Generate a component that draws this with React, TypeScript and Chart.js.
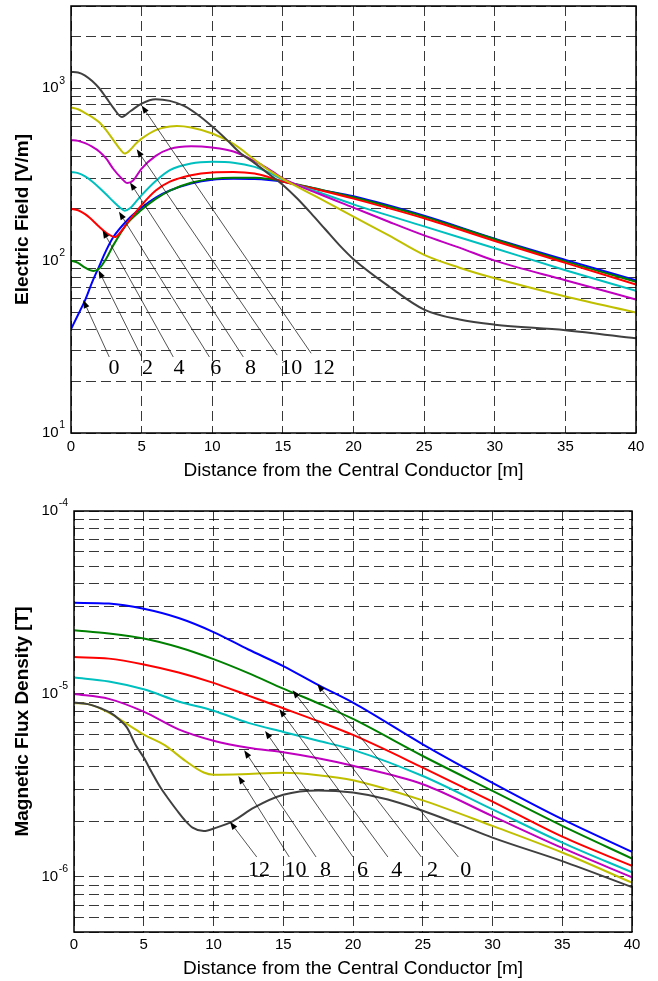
import React, { useEffect, useRef } from 'react';
import { Chart, registerables } from 'chart.js';

Chart.register(...registerables);

const SANS = '"Liberation Sans", Arial, Helvetica, sans-serif';
const SERIF = '"Liberation Serif", "Times New Roman", Times, serif';

// ---------- Shared categories ----------
const HEIGHTS = ['0', '2', '4', '6', '8', '10', '12'];
const SERIES_COLORS = ['#0000ff', '#008000', '#ff0000', '#00bfbf', '#bf00bf', '#bfbf00', '#404040'];
const X_MIN = 0;
const X_MAX = 40;
const X_STEP = 5;
const X_TITLE = 'Distance from the Central Conductor [m]';

// ---------- Electric field [V/m] ----------
const EF_H0_X = [0, 0.5, 1, 1.5, 2, 2.5, 3, 4, 5, 6, 7, 8.5, 10, 11.5, 13, 14, 15, 16, 17.5, 20, 25, 30, 35, 40];
const EF_H0_V = [40, 48.5, 59, 75, 93, 115, 137, 172, 203, 232, 255, 280, 295, 299, 298, 294, 287, 276, 259, 236, 182, 134, 101, 77];

const EF_H2_X = [0, 0.5, 1, 1.6, 2, 2.5, 3, 4, 5, 6, 7, 8.5, 10, 11.5, 13, 14, 15, 17.5, 20, 25, 30, 35, 40];
const EF_H2_V = [100, 97, 91, 87, 90, 103, 123, 165, 197, 228, 255, 283, 298, 303, 303, 298, 288, 260, 233, 180, 133, 99, 75.4];

const EF_H4_X = [0, 0.5, 1, 1.5, 2, 2.5, 3.1, 3.5, 4, 5, 6, 7, 8.5, 10, 11.5, 13, 14, 15, 17.5, 20, 25, 30, 35, 40];
const EF_H4_V = [200, 196, 186, 172, 157, 145, 137, 146, 166, 210, 255, 287, 313, 325, 327, 320, 305, 288, 258, 229, 176, 130, 97, 72.7];

const EF_H6_X = [0, 0.5, 1, 1.5, 2, 2.5, 3, 3.5, 3.8, 4.2, 4.6, 5, 6, 7, 8.5, 10, 11.5, 13, 14, 15, 17.5, 20, 25, 30, 35, 40];
const EF_H6_V = [327, 322, 308, 288, 265, 242, 220, 202, 195, 202, 220, 240, 290, 335, 366, 374, 370, 350, 325, 295, 250, 212, 158, 118, 88, 66.8];

const EF_H8_X = [0, 0.5, 1, 1.5, 2, 2.5, 3, 3.5, 4, 4.4, 5, 6, 7, 8.5, 10, 11.5, 13, 14, 15, 17.5, 20, 22.5, 25, 27.5, 30, 35, 40];
const EF_H8_V = [500, 495, 480, 458, 430, 390, 340, 305, 282, 292, 342, 405, 445, 461, 453, 430, 378, 340, 300, 245, 203, 168, 140, 119, 100, 77, 59.5];

const EF_H10_X = [0, 0.5, 1, 1.5, 2, 2.5, 3, 3.5, 3.8, 4.2, 4.6, 5, 6, 7, 7.5, 8.5, 10, 11.5, 13, 14, 15, 17.5, 20, 22.5, 25, 27.5, 30, 35, 40];
const EF_H10_V = [773, 755, 718, 680, 635, 570, 500, 440, 418, 440, 478, 510, 572, 600, 604, 592, 546, 475, 385, 335, 298, 232, 180, 140, 108, 91, 79, 62, 50];

const EF_H12_X = [0, 0.5, 1, 1.5, 2, 2.5, 3, 3.6, 4.2, 5, 6, 7, 8, 9, 10, 11, 12, 13, 14, 15, 16, 17, 18, 19, 20, 22.5, 25, 27.5, 30, 35, 40];
const EF_H12_V = [1244, 1235, 1185, 1100, 1000, 880, 770, 682, 735, 815, 864, 845, 790, 700, 600, 505, 420, 368, 318, 275, 230, 188, 152, 123, 102, 71, 52, 45.5, 42.5, 39.5, 35.4];

const EF_Y_MIN = 10;
const EF_Y_MAX = 3000;
const EF_Y_EXPONENTS = [1, 2, 3];
const EF_Y_TITLE = 'Electric Field [V/m]';

// annotation callouts (data units)
const EF_LABEL_X = [3.04, 5.42, 7.65, 10.25, 12.7, 15.6, 17.9];
const EF_LABEL_V = [23.8, 23.8, 23.8, 23.8, 23.8, 23.8, 23.8];
const EF_FROM_X = [2.71, 5.0, 7.24, 9.8, 12.2, 14.6, 17.0];
const EF_FROM_V = [27.6, 27.6, 27.6, 27.6, 27.6, 28.3, 29];
const EF_TIP_X = [0.87, 1.95, 2.24, 3.4, 4.18, 4.65, 5.0];
const EF_TIP_V = [59, 88, 150, 192, 284, 442, 794];

// ---------- Magnetic flux density [T] ----------
const MF_X = [0, 2.5, 5, 7.5, 10, 12.5, 15, 17.5, 20, 25, 30, 35, 40];
const MF_H0_V = [3.15e-5, 3.12e-5, 2.92e-5, 2.6e-5, 2.18e-5, 1.75e-5, 1.42e-5, 1.12e-5, 8.97e-6, 5.31e-6, 3.27e-6, 2.07e-6, 1.37e-6];
const MF_H2_V = [2.23e-5, 2.14e-5, 2.01e-5, 1.8e-5, 1.55e-5, 1.3e-5, 1.07e-5, 8.9e-6, 7.3e-6, 4.58e-6, 2.95e-6, 1.9e-6, 1.26e-6];
const MF_H4_V = [1.59e-5, 1.56e-5, 1.45e-5, 1.31e-5, 1.15e-5, 9.8e-6, 8.35e-6, 7.1e-6, 5.97e-6, 3.96e-6, 2.58e-6, 1.66e-6, 1.15e-6];
const MF_H6_V = [1.23e-5, 1.17e-5, 1.06e-5, 9.1e-6, 8.1e-6, 6.95e-6, 6.2e-6, 5.55e-6, 4.95e-6, 3.56e-6, 2.34e-6, 1.54e-6, 1.06e-6];
const MF_H8_V = [1.0e-5, 9.4e-6, 8.0e-6, 6.4e-6, 5.55e-6, 5.08e-6, 4.8e-6, 4.45e-6, 4.05e-6, 3.21e-6, 2.15e-6, 1.44e-6, 9.96e-7];

const MF_H10_X = [0, 1, 2.5, 4, 5, 6.5, 8, 9.3, 10, 12, 15, 17.5, 20, 25, 30, 35, 40];
const MF_H10_V = [8.9e-6, 8.8e-6, 7.9e-6, 6.7e-6, 6.0e-6, 5.25e-6, 4.3e-6, 3.72e-6, 3.62e-6, 3.64e-6, 3.71e-6, 3.6e-6, 3.38e-6, 2.62e-6, 1.9e-6, 1.36e-6, 9.3e-7];

const MF_H12_X = [0, 1, 2, 2.6, 3.2, 3.8, 4.4, 5, 5.6, 6.2, 6.8, 7.4, 8, 8.5, 9.3, 10.2, 11.4, 12.9, 15, 17.5, 20, 22.5, 25, 27.5, 30, 35, 40];
const MF_H12_V = [8.97e-6, 8.8e-6, 8.3e-6, 7.9e-6, 7.3e-6, 6.55e-6, 5.3e-6, 4.49e-6, 3.7e-6, 3.08e-6, 2.65e-6, 2.3e-6, 2.02e-6, 1.86e-6, 1.78e-6, 1.86e-6, 2.02e-6, 2.39e-6, 2.81e-6, 2.97e-6, 2.89e-6, 2.65e-6, 2.3e-6, 1.95e-6, 1.64e-6, 1.22e-6, 8.8e-7];

const MF_Y_MIN = 5e-7;
const MF_Y_MAX = 1e-4;
const MF_Y_EXPONENTS = [-6, -5, -4];
const MF_Y_TITLE = 'Magnetic Flux Density [T]';

const MF_LABEL_TEXT = ['12', '10', '8', '6', '4', '2', '0'];
const MF_LABEL_X = [13.26, 15.88, 18.03, 20.68, 23.13, 25.7, 28.09];
const MF_LABEL_V = [1.09e-6, 1.09e-6, 1.09e-6, 1.09e-6, 1.09e-6, 1.09e-6, 1.09e-6];
const MF_FROM_X = [13.1, 15.43, 17.35, 20.0, 22.5, 24.9, 27.55];
const MF_FROM_V = [1.285e-6, 1.285e-6, 1.285e-6, 1.285e-6, 1.285e-6, 1.285e-6, 1.285e-6];
const MF_TIP_X = [11.18, 11.78, 12.2, 13.7, 14.72, 15.67, 17.44];
const MF_TIP_V = [2.0e-6, 3.56e-6, 4.92e-6, 6.28e-6, 8.25e-6, 1.047e-5, 1.13e-5];

// ---------- helpers ----------
const GRID_COLOR = 'rgba(0,0,0,0.78)';
const GRID_DASH = [10, 5];
const CANVAS_W = 658;

function logGridValues(min: number, max: number): number[] {
  const out: number[] = [];
  const d0 = Math.floor(Math.log10(min)) - 1;
  const d1 = Math.ceil(Math.log10(max)) + 1;
  for (let d = d0; d <= d1; d++) {
    for (let m = 1; m <= 9; m++) {
      const v = parseFloat((m * Math.pow(10, d)).toPrecision(6));
      if (v >= min * 0.9999 && v <= max * 1.0001) out.push(v);
    }
  }
  return out;
}

function decorPlugin(spec: any) {
  return {
    id: 'decor_' + spec.id,
    afterDatasetsDraw(chart: any) {
      const { ctx, chartArea: a, scales } = chart;
      const xs = scales.x;
      const ys = scales.y;
      ctx.save();
      ctx.setLineDash([]);
      // callout arrows + labels
      const ann = spec.ann;
      for (let i = 0; i < ann.text.length; i++) {
        const x0 = xs.getPixelForValue(ann.fromX[i]);
        const y0 = ys.getPixelForValue(ann.fromV[i]);
        const x1 = xs.getPixelForValue(ann.tipX[i]);
        const y1 = ys.getPixelForValue(ann.tipV[i]);
        const ang = Math.atan2(y1 - y0, x1 - x0);
        const L = 8;
        const W = 3;
        const bx = x1 - L * Math.cos(ang);
        const by = y1 - L * Math.sin(ang);
        ctx.strokeStyle = '#1a1a1a';
        ctx.lineWidth = 0.75;
        ctx.beginPath();
        ctx.moveTo(x0, y0);
        ctx.lineTo(bx, by);
        ctx.stroke();
        ctx.fillStyle = '#000';
        ctx.beginPath();
        ctx.moveTo(x1, y1);
        ctx.lineTo(bx + W * Math.sin(ang), by - W * Math.cos(ang));
        ctx.lineTo(bx - W * Math.sin(ang), by + W * Math.cos(ang));
        ctx.closePath();
        ctx.fill();
        ctx.font = `22px ${SERIF}`;
        ctx.textAlign = 'center';
        ctx.textBaseline = 'middle';
        ctx.fillText(ann.text[i], xs.getPixelForValue(ann.labelX[i]), ys.getPixelForValue(ann.labelV[i]));
      }
      // axes box
      ctx.strokeStyle = '#000';
      ctx.lineWidth = 1.5;
      ctx.strokeRect(a.left, a.top, a.right - a.left, a.bottom - a.top);
      // y tick labels 10^n
      ctx.fillStyle = '#000';
      ctx.textBaseline = 'middle';
      for (const e of spec.exps) {
        const y = ys.getPixelForValue(Math.pow(10, e));
        const expStr = String(e);
        ctx.font = `10.5px ${SANS}`;
        const we = ctx.measureText(expStr).width;
        const right = a.left - 6;
        ctx.textAlign = 'left';
        ctx.fillText(expStr, right - we, y - 7.5);
        ctx.font = `15px ${SANS}`;
        ctx.textAlign = 'right';
        ctx.fillText('10', right - we - 0.5, y);
      }
      ctx.restore();
    },
  };
}

function buildConfig(spec: any) {
  const gridVals = logGridValues(spec.yMin, spec.yMax);
  return {
    type: 'line',
    data: {
      datasets: spec.series.map((s: any, i: number) => ({
        label: HEIGHTS[i],
        data: s.x.map((xv: number, j: number) => ({ x: xv, y: s.v[j] })),
        borderColor: SERIES_COLORS[i],
        backgroundColor: SERIES_COLORS[i],
        borderWidth: 2,
        pointRadius: 0,
        fill: false,
        cubicInterpolationMode: 'monotone',
        order: spec.series.length - i,
      })),
    },
    options: {
      animation: false,
      responsive: false,
      maintainAspectRatio: false,
      devicePixelRatio: 1,
      events: [],
      layout: {
        padding: { left: 0, top: spec.area.top, right: CANVAS_W - spec.area.right, bottom: 0 },
      },
      plugins: { legend: { display: false }, tooltip: { enabled: false } },
      scales: {
        x: {
          type: 'linear',
          min: X_MIN,
          max: X_MAX,
          ticks: {
            stepSize: X_STEP,
            color: '#000',
            font: { family: SANS, size: 15 },
            padding: spec.xTickPad,
            maxRotation: 0,
            autoSkip: false,
          },
          grid: { color: GRID_COLOR, lineWidth: 1, drawTicks: false },
          border: { display: false, dash: GRID_DASH },
          title: {
            display: true,
            text: X_TITLE,
            color: '#000',
            font: { family: SANS, size: 19 },
            padding: { top: 0, bottom: spec.xTitlePad },
          },
          afterFit: (s: any) => {
            s.height = spec.canvasH - spec.area.bottom;
          },
        },
        y: {
          type: 'logarithmic',
          min: spec.yMin,
          max: spec.yMax,
          ticks: { display: false },
          grid: { color: GRID_COLOR, lineWidth: 1, drawTicks: false },
          border: { display: false, dash: GRID_DASH },
          title: {
            display: true,
            text: spec.yTitle,
            color: '#000',
            font: { family: SANS, size: 19, weight: 'bold' },
            padding: { top: 11.1, bottom: 0 },
          },
          afterBuildTicks: (s: any) => {
            s.ticks = gridVals.map((v) => ({ value: v }));
          },
          afterFit: (s: any) => {
            s.width = spec.area.left;
          },
        },
      },
    },
    plugins: [decorPlugin(spec)],
  };
}

const EF_SPEC = {
  id: 'ef',
  canvasH: 490,
  area: { left: 71, right: 636, top: 6, bottom: 433 },
  yMin: EF_Y_MIN,
  yMax: EF_Y_MAX,
  exps: EF_Y_EXPONENTS,
  yTitle: EF_Y_TITLE,
  xTickPad: 5,
  xTitlePad: 8,
  series: [
    { x: EF_H0_X, v: EF_H0_V },
    { x: EF_H2_X, v: EF_H2_V },
    { x: EF_H4_X, v: EF_H4_V },
    { x: EF_H6_X, v: EF_H6_V },
    { x: EF_H8_X, v: EF_H8_V },
    { x: EF_H10_X, v: EF_H10_V },
    { x: EF_H12_X, v: EF_H12_V },
  ],
  ann: {
    text: HEIGHTS,
    labelX: EF_LABEL_X,
    labelV: EF_LABEL_V,
    fromX: EF_FROM_X,
    fromV: EF_FROM_V,
    tipX: EF_TIP_X,
    tipV: EF_TIP_V,
  },
};

const MF_SPEC = {
  id: 'mf',
  canvasH: 491,
  area: { left: 74, right: 632, top: 21, bottom: 442 },
  yMin: MF_Y_MIN,
  yMax: MF_Y_MAX,
  exps: MF_Y_EXPONENTS,
  yTitle: MF_Y_TITLE,
  xTickPad: 4,
  xTitlePad: 0.5,
  series: [
    { x: MF_X, v: MF_H0_V },
    { x: MF_X, v: MF_H2_V },
    { x: MF_X, v: MF_H4_V },
    { x: MF_X, v: MF_H6_V },
    { x: MF_X, v: MF_H8_V },
    { x: MF_H10_X, v: MF_H10_V },
    { x: MF_H12_X, v: MF_H12_V },
  ],
  ann: {
    text: MF_LABEL_TEXT,
    labelX: MF_LABEL_X,
    labelV: MF_LABEL_V,
    fromX: MF_FROM_X,
    fromV: MF_FROM_V,
    tipX: MF_TIP_X,
    tipV: MF_TIP_V,
  },
};

function Panel({ spec, top }: { spec: any; top: number }) {
  const ref = useRef<HTMLCanvasElement | null>(null);
  useEffect(() => {
    if (!ref.current) return;
    const chart = new Chart(ref.current, buildConfig(spec) as any);
    return () => chart.destroy();
  }, [spec]);
  return (
    <canvas
      ref={ref}
      width={CANVAS_W}
      height={spec.canvasH}
      style={{ position: 'absolute', left: 0, top, width: CANVAS_W, height: spec.canvasH, display: 'block' }}
    />
  );
}

export default function App() {
  return (
    <div
      style={{
        position: 'absolute',
        left: 0,
        top: 0,
        width: CANVAS_W,
        height: 981,
        background: '#fff',
        overflow: 'hidden',
      }}
    >
      <Panel spec={EF_SPEC} top={0} />
      <Panel spec={MF_SPEC} top={490} />
    </div>
  );
}
